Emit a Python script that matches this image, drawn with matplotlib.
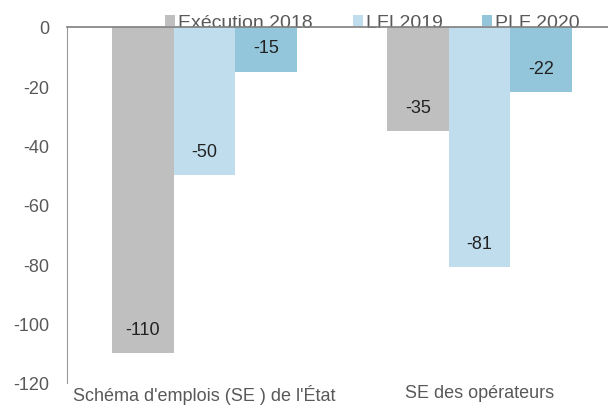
import numpy as np
import matplotlib.pyplot as plt

plt.rcParams['font.family'] = ['Liberation Sans', 'DejaVu Sans']
plt.rcParams['axes.unicode_minus'] = False

categories = ["Schéma d'emplois (SE ) de l'État", "SE des opérateurs"]
series_names = ["Exécution 2018", "LFI 2019", "PLF 2020"]
execution_2018 = [-110, -35]
lfi_2019 = [-50, -81]
plf_2020 = [-15, -22]
colours = ['#bfbfbf', '#c0dded', '#93c6db']

fig = plt.figure(figsize=(6.08, 4.06), dpi=100)
# axes: 0 at y=28px, -120 at y=384px
ax = fig.add_axes([67 / 608, 1 - 384 / 406, 550 / 608, 356 / 406])

x = np.arange(len(categories))
width = 0.224
for i, (vals, name) in enumerate(zip([execution_2018, lfi_2019, plf_2020], series_names)):
    pos = x + (i - 1) * width
    ax.bar(pos, vals, width, color=colours[i], label=name, zorder=2)
    for p, v in zip(pos, vals):
        ax.annotate(str(v), (p, v), xytext=(0, 17), textcoords='offset points',
                    ha='center', va='center', fontsize=13, color='#222222')

ax.set_xlim(-0.5, 1.5)
ax.set_ylim(-120, 0)
ax.set_yticks(np.arange(-120, 1, 20))
ax.tick_params(axis='y', length=0, pad=13, labelsize=13, labelcolor='#595959')
ax.set_xticks([])
for s in ['right', 'bottom']:
    ax.spines[s].set_visible(False)
ax.spines['left'].set_color('#999999')
ax.spines['top'].set_color('#7f7f7f')
ax.spines['top'].set_linewidth(1.2)
ax.spines['top'].set_zorder(3)

# category names, kept just inside the bottom edge
for xi, c in zip(x, categories):
    ax.annotate(c, (xi, -120), xytext=(0, -1), textcoords='offset points',
                ha='center', va='top', fontsize=13, color='#595959')

leg = ax.legend(loc='center left', bbox_to_anchor=((165 - 67) / 550, 1 + 4 / 356), ncol=3,
                frameon=False, fontsize=14, borderpad=0, borderaxespad=0,
                handlelength=0.52, handleheight=0.52, handletextpad=0.15,
                columnspacing=2.05, labelcolor='#595959')
leg.set_zorder(1)

fig.savefig('out.png', dpi=100)
